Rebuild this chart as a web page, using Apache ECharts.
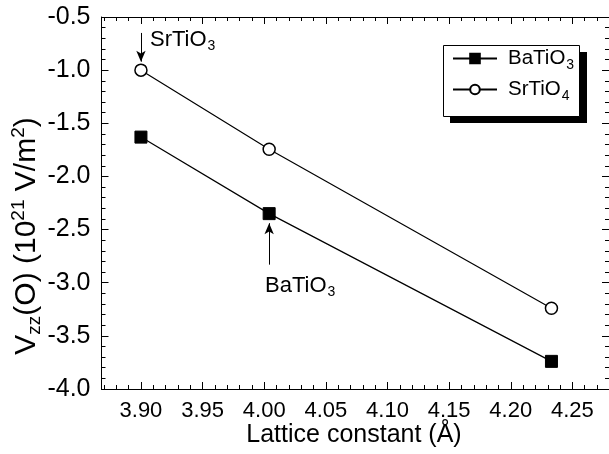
<!DOCTYPE html>
<html>
<head>
<meta charset="utf-8">
<script src="https://cdn.jsdelivr.net/npm/echarts@6/dist/echarts.min.js"></script>
<style>
html,body{margin:0;padding:0;background:#fff;}
#chart{width:609px;height:454px;}
</style>
</head>
<body>
<div id="chart"></div>
<script>
// ---- data ----
const baLattice = [3.900, 4.004, 4.233];
const baVzz = [-1.63, -2.35, -3.74];
const srLattice = [3.900, 4.004, 4.233];
const srVzz = [-1.00, -1.745, -3.24];
const xTickLabels = [3.90, 3.95, 4.00, 4.05, 4.10, 4.15, 4.20, 4.25];
const yTickLabels = [-4.0, -3.5, -3.0, -2.5, -2.0, -1.5, -1.0, -0.5];
const seriesNames = ['BaTiO3', 'SrTiO4'];
// annotation arrows (data coords): [x, yStart, yEnd]
const srArrow = [3.900, -0.65, -0.92];
const baArrow = [4.004, -2.83, -2.44];

const XMIN = 3.868, XMAX = 4.274;
const FONT = '"Liberation Sans", Arial, Helvetica, sans-serif';
const xMinor = [];
for (let i = 387; i <= 427; i++) xMinor.push(i / 100);

const pair = (xs, ys) => xs.map((x, i) => [x, ys[i]]);

const chart = echarts.init(document.getElementById('chart'), null, {renderer: 'canvas'});

const axisLineStyle = {show: true, lineStyle: {color: '#000', width: 1}};
const subStyle = {fontSize: 14, fontFamily: FONT, color: '#000', padding: [13, 0, 0, 1]};

function xAx(pos, major, labels) {
  return {
    type: 'value', position: pos, min: XMIN, max: XMAX,
    axisLine: major ? axisLineStyle : {show: false},
    axisTick: {show: true, inside: true, length: major ? 7 : 4,
      customValues: major ? xTickLabels : xMinor, lineStyle: {color: '#000'}},
    axisLabel: labels ? {show: true, customValues: xTickLabels, formatter: v => v.toFixed(2),
      fontSize: 22, color: '#000', fontFamily: FONT, margin: 11} : {show: false},
    splitLine: {show: false}
  };
}

const option = {
  backgroundColor: '#fff',
  animation: false,
  grid: {left: 101.5, top: 17, width: 500.5, height: 372, containLabel: false},
  xAxis: [xAx('bottom', true, true), xAx('bottom', false, false), xAx('top', true, false), xAx('top', false, false)],
  yAxis: [
    {type: 'value', position: 'left', min: -4, max: -0.5, interval: 0.5,
      axisLine: axisLineStyle,
      axisTick: {show: true, inside: true, length: 7, lineStyle: {color: '#000'}},
      minorTick: {show: true, splitNumber: 5, length: 4, lineStyle: {color: '#000'}},
      axisLabel: {customValues: yTickLabels, formatter: v => v.toFixed(1), fontSize: 25, color: '#000', fontFamily: FONT, margin: 11},
      splitLine: {show: false}},
    {type: 'value', position: 'right', offset: 7, min: -4, max: -0.5, interval: 0.5,
      axisLine: {show: false},
      axisTick: {show: true, inside: true, length: 7, lineStyle: {color: '#000'}},
      minorTick: {show: true, splitNumber: 5, length: 4, lineStyle: {color: '#000'}},
      axisLabel: {show: false}, splitLine: {show: false}}
  ],
  legend: {
    orient: 'vertical', left: 452, top: 48, z: 10,
    data: seriesNames,
    itemWidth: 44, itemHeight: 12, itemGap: 7,
    padding: 0,
    formatter: n => n === 'BaTiO3' ? '{p|}BaTiO{s|3}' : '{p|}SrTiO{s|4}',
    textStyle: {fontSize: 20.5, color: '#000', fontFamily: FONT, rich: {s: subStyle, p: {width: 6}}}
  },
  series: [
    {name: seriesNames[0], type: 'line', data: pair(baLattice, baVzz),
      symbol: 'rect', symbolSize: 12,
      lineStyle: {color: '#000', width: 1.2},
      itemStyle: {color: '#000', borderColor: '#000', borderWidth: 1},
      markLine: {silent: true, symbol: ['none', 'arrow'], symbolSize: [7, 11],
        label: {show: false}, lineStyle: {color: '#000', width: 1, type: 'solid'},
        data: [[{coord: [baArrow[0], baArrow[1]]}, {coord: [baArrow[0], baArrow[2]]}]]}
    },
    {name: seriesNames[1], type: 'line', data: pair(srLattice, srVzz),
      symbol: 'circle', symbolSize: 12,
      lineStyle: {color: '#000', width: 1.2},
      itemStyle: {color: '#fff', borderColor: '#000', borderWidth: 1.5},
      markLine: {silent: true, symbol: ['none', 'arrow'], symbolSize: [7, 11],
        label: {show: false}, lineStyle: {color: '#000', width: 1, type: 'solid'},
        data: [[{coord: [srArrow[0], srArrow[1]]}, {coord: [srArrow[0], srArrow[2]]}]]}
    }
  ],
  graphic: [
    {type: 'rect', z: 1, shape: {x: 450, y: 52, width: 137, height: 71}, style: {fill: '#000'}},
    {type: 'rect', z: 2, shape: {x: 443.5, y: 45.5, width: 136, height: 71}, style: {fill: '#fff', stroke: '#000', lineWidth: 1}},
    {type: 'text', left: 150, top: 29, style: {text: 'SrTiO{s|3}', fontSize: 22, fontFamily: FONT, fill: '#000', rich: {s: subStyle}}},
    {type: 'text', left: 265, top: 275, style: {text: 'BaTiO{s|3}', fontSize: 22, fontFamily: FONT, fill: '#000', rich: {s: subStyle}}},
    {type: 'text', x: 354, y: 435, style: {text: 'Lattice constant (Å)', fontSize: 25, fontFamily: FONT, fill: '#000', align: 'center', verticalAlign: 'middle'}},
    {type: 'text', x: 27, y: 236, rotation: Math.PI / 2,
      style: {text: 'V{sub|zz}(O) (10{sup|21} V/m{sup|2})', fontSize: 30, fontFamily: FONT, fill: '#000',
        align: 'center', verticalAlign: 'middle',
        rich: {sub: {fontSize: 19, fontFamily: FONT, padding: [16, 0, 0, 0]}, sup: {fontSize: 19, fontFamily: FONT, padding: [0, 0, 16, 0]}}}}
  ]
};
chart.setOption(option);
</script>
</body>
</html>
